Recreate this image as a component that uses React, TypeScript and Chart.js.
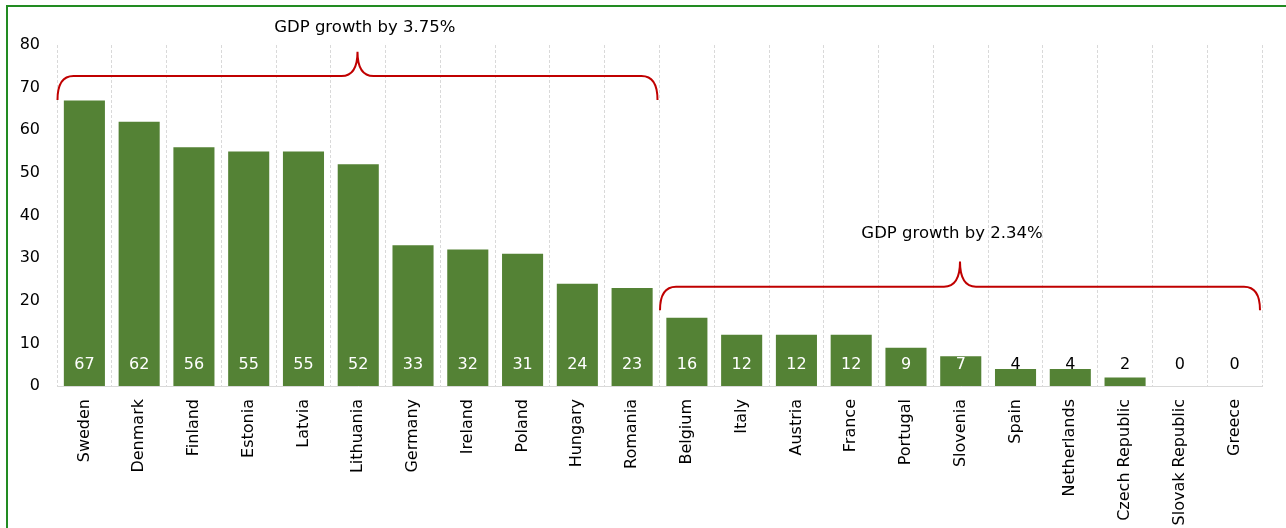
import React, { useEffect, useRef } from "react";
import { Chart, registerables } from "chart.js";

Chart.register(...registerables);

const categories = [
  "Sweden", "Denmark", "Finland", "Estonia", "Latvia", "Lithuania", "Germany",
  "Ireland", "Poland", "Hungary", "Romania", "Belgium", "Italy", "Austria",
  "France", "Portugal", "Slovenia", "Spain", "Netherlands", "Czech Republic",
  "Slovak Republic", "Greece",
];
const values = [67, 62, 56, 55, 55, 52, 33, 32, 31, 24, 23, 16, 12, 12, 12, 9, 7, 4, 4, 2, 0, 0];

const yMin = 0;
const yMax = 80;
const yStep = 10;

// Brace annotations (group spans by category index, heights in data units)
const groupLabels = ["GDP growth by 3.75%", "GDP growth by 2.34%"];
const groupStart = [0, 11];
const groupEnd = [10, 21];
const braceEndValue = [67.1, 17.8];
const braceLineValue = [72.7, 23.3];
const braceTipValue = [78.4, 29.2];
const labelValue = [84, 35.7];
const labelCategoryPos = [5.12, 15.84];

const FONT = "'DejaVu Sans', Verdana, sans-serif";

const braces = {
  id: "braces",
  afterDatasetsDraw(chart: any) {
    const ctx = chart.ctx;
    const xs = chart.scales.x;
    const ys = chart.scales.y;
    const half = (xs.getPixelForValue(1) - xs.getPixelForValue(0)) / 2;
    ctx.save();
    for (let g = 0; g < groupLabels.length; g++) {
      const x0 = xs.getPixelForValue(groupStart[g]) - half + 0.5;
      const x1 = xs.getPixelForValue(groupEnd[g]) + half - 2;
      const mid = (x0 + x1) / 2;
      const yE = ys.getPixelForValue(braceEndValue[g]);
      const yH = ys.getPixelForValue(braceLineValue[g]);
      const yT = ys.getPixelForValue(braceTipValue[g]);
      const r = 16;
      ctx.beginPath();
      ctx.moveTo(x0, yE);
      ctx.quadraticCurveTo(x0, yH, x0 + r, yH);
      ctx.lineTo(mid - r, yH);
      ctx.quadraticCurveTo(mid, yH, mid, yT);
      ctx.quadraticCurveTo(mid, yH, mid + r, yH);
      ctx.lineTo(x1 - r, yH);
      ctx.quadraticCurveTo(x1, yH, x1, yE);
      ctx.strokeStyle = "#c00000";
      ctx.lineWidth = 2;
      ctx.stroke();

      ctx.fillStyle = "#000000";
      ctx.font = `16.5px ${FONT}`;
      ctx.textAlign = "center";
      ctx.textBaseline = "middle";
      ctx.fillText(groupLabels[g], xs.getPixelForValue(labelCategoryPos[g]), ys.getPixelForValue(labelValue[g]));
    }
    ctx.restore();
  },
};

const valueLabels = {
  id: "valueLabels",
  afterDatasetsDraw(chart: any) {
    const ctx = chart.ctx;
    const ys = chart.scales.y;
    const meta = chart.getDatasetMeta(0);
    const base = ys.getPixelForValue(0);
    const ly = base - 21.5;
    ctx.save();
    ctx.font = `16px ${FONT}`;
    ctx.textAlign = "center";
    ctx.textBaseline = "middle";
    meta.data.forEach((bar: any, i: number) => {
      ctx.fillStyle = bar.y <= ly - 6 ? "#ffffff" : "#000000";
      ctx.fillText(String(values[i]), bar.x, ly);
    });
    ctx.restore();
  },
};

export default function App() {
  const ref = useRef<HTMLCanvasElement | null>(null);

  useEffect(() => {
    document.body.style.margin = "0";
    const canvas = ref.current;
    if (!canvas) return;
    Chart.defaults.font.family = FONT;
    const chart = new Chart(canvas, {
      type: "bar",
      data: {
        labels: categories,
        datasets: [
          {
            data: values,
            backgroundColor: "#548235",
            borderWidth: 0,
            categoryPercentage: 1,
            barPercentage: 0.75,
          },
        ],
      },
      options: {
        responsive: false,
        animation: false,
        layout: { padding: { left: 0, right: 24, top: 45, bottom: 0 } },
        plugins: {
          legend: { display: false },
          tooltip: { enabled: false },
        },
        scales: {
          x: {
            grid: {
              offset: true,
              color: "#d9d9d9",
              lineWidth: 1,
              drawTicks: false,
            },
            border: { display: true, color: "#d9d9d9", dash: [3, 2] },
            ticks: {
              color: "#000000",
              font: { size: 16, family: FONT },
              minRotation: 90,
              maxRotation: 90,
              padding: 13,
              autoSkip: false,
            },
            afterFit: (s: any) => {
              s.height = 142;
            },
          },
          y: {
            min: yMin,
            max: yMax,
            grid: { display: false, drawTicks: false },
            border: { display: false },
            ticks: {
              stepSize: yStep,
              color: "#000000",
              font: { size: 16, family: FONT },
              padding: 17,
            },
            afterFit: (s: any) => {
              s.width = 57;
            },
          },
        },
      },
      plugins: [valueLabels, braces],
    } as any);
    return () => chart.destroy();
  }, []);

  return (
    <div>
      <canvas
        ref={ref}
        width={1286}
        height={528}
        style={{ position: "fixed", left: 0, top: 0, width: 1286, height: 528 }}
      />
      <div
        style={{
          position: "fixed",
          left: 6,
          top: 5,
          width: 1400,
          height: 700,
          border: "2px solid #228b22",
          pointerEvents: "none",
        }}
      />
    </div>
  );
}
